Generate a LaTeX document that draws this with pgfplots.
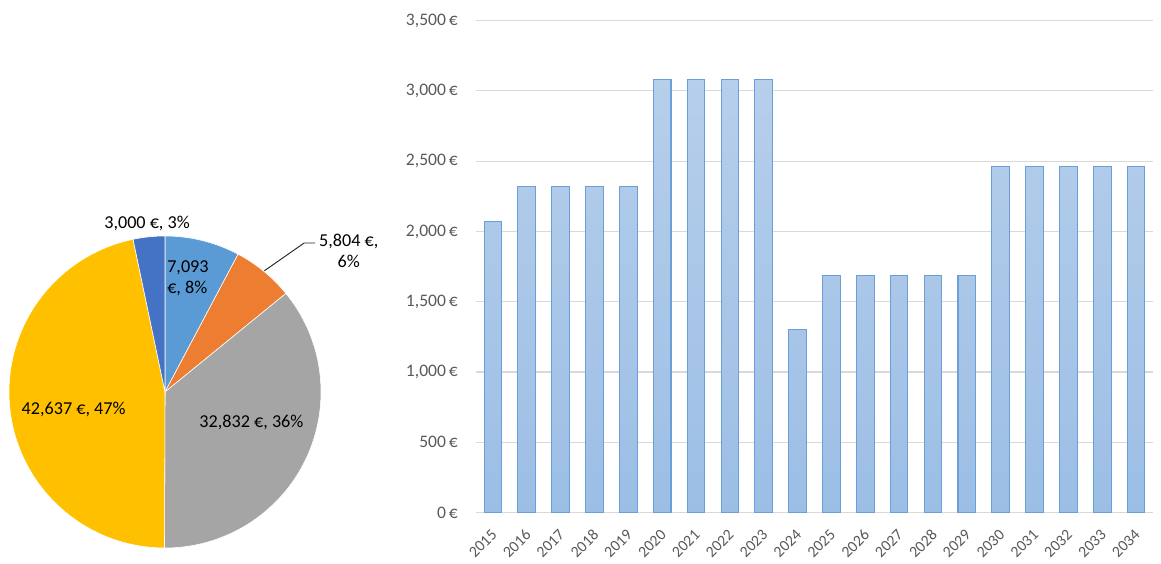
\documentclass[border=0pt]{standalone}
\usepackage{pgfplots}
\pgfplotsset{compat=1.18}
\usepackage{pgfplotstable}
\usepackage{fontspec}
\setmainfont{Carlito}

\definecolor{sliceA}{HTML}{5B9BD5}
\definecolor{sliceB}{HTML}{ED7D31}
\definecolor{sliceC}{HTML}{A5A5A5}
\definecolor{sliceD}{HTML}{FFC000}
\definecolor{sliceE}{HTML}{4472C4}
\definecolor{bartop}{HTML}{B6CFEB}
\definecolor{barbot}{HTML}{9CBEE5}
\definecolor{baredge}{HTML}{6A9FD8}
\definecolor{ticktext}{HTML}{595959}
\definecolor{gridc}{HTML}{D9D9D9}

\pgfplotstableread{
year value
2015 2070
2016 2322
2017 2322
2018 2322
2019 2322
2020 3083
2021 3083
2022 3083
2023 3083
2024 1305
2025 1684
2026 1684
2027 1684
2028 1684
2029 1684
2030 2459
2031 2459
2032 2459
2033 2459
2034 2459
}\bardata

\pgfplotstableread{
slice value
A 7093
B 5804
C 32832
D 42637
E 3000
}\piedata

\pgfplotstablegetelem{0}{value}\of\piedata\edef\vA{\pgfplotsretval}
\pgfplotstablegetelem{1}{value}\of\piedata\edef\vB{\pgfplotsretval}
\pgfplotstablegetelem{2}{value}\of\piedata\edef\vC{\pgfplotsretval}
\pgfplotstablegetelem{3}{value}\of\piedata\edef\vD{\pgfplotsretval}
\pgfplotstablegetelem{4}{value}\of\piedata\edef\vE{\pgfplotsretval}
\edef\tot{\fpeval{\vA+\vB+\vC+\vD+\vE}}
\edef\aA{90}
\edef\aB{\fpeval{90-360*(\vA)/\tot}}
\edef\aC{\fpeval{90-360*(\vA+\vB)/\tot}}
\edef\aD{\fpeval{90-360*(\vA+\vB+\vC)/\tot}}
\edef\aE{\fpeval{90-360*(\vA+\vB+\vC+\vD)/\tot}}
\edef\aF{-270}
\newcommand\pief{\fontsize{15.5}{18.5}\selectfont}

\begin{document}
\begin{tikzpicture}
\useasboundingbox (0,0) rectangle (34.83cm,16.92cm);
% ---------------- pie ----------------
\begin{axis}[
  at={(4.95cm,5.16cm)}, anchor=origin,
  x=4.68cm, y=4.68cm,
  xmin=-1, xmax=1, ymin=-1, ymax=1,
  hide axis, clip=false,
]
\def\R{4.68cm}
\fill[sliceA, draw=white, line width=0.5pt] (axis cs:0,0) -- (axis cs:{cos(\aA)},{sin(\aA)}) arc[start angle=\aA, end angle=\aB, radius=\R] -- cycle;
\fill[sliceB, draw=white, line width=0.5pt] (axis cs:0,0) -- (axis cs:{cos(\aB)},{sin(\aB)}) arc[start angle=\aB, end angle=\aC, radius=\R] -- cycle;
\fill[sliceC, draw=white, line width=0.5pt] (axis cs:0,0) -- (axis cs:{cos(\aC)},{sin(\aC)}) arc[start angle=\aC, end angle=\aD, radius=\R] -- cycle;
\fill[sliceD, draw=white, line width=0.5pt] (axis cs:0,0) -- (axis cs:{cos(\aD)},{sin(\aD)}) arc[start angle=\aD, end angle=\aE, radius=\R] -- cycle;
\fill[sliceE, draw=white, line width=0.5pt] (axis cs:0,0) -- (axis cs:{cos(\aE)},{sin(\aE)}) arc[start angle=\aE, end angle=\aF, radius=\R] -- cycle;
\node[anchor=west, align=left, inner sep=0pt, font=\pief] at (axis cs:0.013,0.73) {7,093\\[-1pt]€, 8\%};
\node[align=center, inner sep=0pt, font=\pief] at (axis cs:1.178,0.904) {5,804 €,\\[-1pt]6\%};
\draw[black!85, line width=0.8pt] (axis cs:0.637,0.777) -- (axis cs:0.892,0.955) -- (axis cs:0.962,0.955);
\node[inner sep=0pt, font=\pief] at (axis cs:0.554,-0.196) {32,832 €, 36\%};
\node[inner sep=0pt, font=\pief] at (axis cs:-0.586,-0.112) {42,637 €, 47\%};
\node[inner sep=0pt, font=\pief] at (axis cs:-0.115,1.082) {3,000 €, 3\%};
\end{axis}
% ---------------- bars ----------------
\begin{axis}[
  at={(14.28cm,1.545cm)}, anchor=south west,
  scale only axis, width=20.31cm, height=14.754cm,
  xmin=-0.5, xmax=19.5, ymin=0, ymax=3500,
  ytick={0,500,...,3500},
  xtick={0,...,19},
  xticklabels={2015,2016,2017,2018,2019,2020,2021,2022,2023,2024,2025,2026,2027,2028,2029,2030,2031,2032,2033,2034},
  ymajorgrids,
  grid style={draw=gridc, line width=0.9pt},
  axis line style={draw=none},
  major tick length=0pt,
  /pgf/number format/.cd, 1000 sep={,}, assume math mode=true,
  /pgfplots/.cd,
  yticklabel={\pgfmathprintnumber{\tick}\,€},
  yticklabel style={font=\fontsize{15}{18}\selectfont, text=ticktext, xshift=-12pt},
  xticklabel style={font=\fontsize{13.5}{16}\selectfont, text=ticktext, rotate=45, anchor=north east, inner sep=0pt, xshift=-11pt, yshift=-8pt},
]
\addplot[ybar, bar width=0.53cm, draw=baredge, line width=0.9pt, top color=bartop, bottom color=barbot]
  table[x expr=\coordindex, y=value] {\bardata};
\end{axis}
\end{tikzpicture}
\end{document}
